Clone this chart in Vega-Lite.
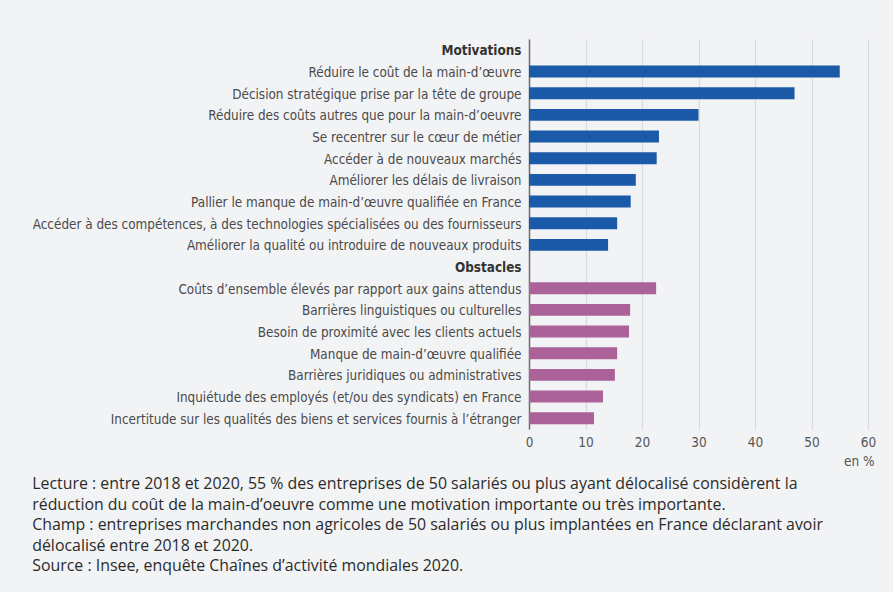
{
  "$schema": "https://vega.github.io/schema/vega-lite/v6.json",
  "autosize": {"type": "none"},
  "padding": {"left": 529, "top": 39, "right": 25, "bottom": 163},
  "width": 339,
  "height": 390,
  "background": "#f2f3f5",
  "title": {
    "text": [
      "Lecture : entre 2018 et 2020, 55 % des entreprises de 50 salariés ou plus ayant délocalisé considèrent la",
      "réduction du coût de la main-d’oeuvre comme une motivation importante ou très importante.",
      "Champ : entreprises marchandes non agricoles de 50 salariés ou plus implantées en France déclarant avoir",
      "délocalisé entre 2018 et 2020.",
      "Source : Insee, enquête Chaînes d’activité mondiales 2020."
    ],
    "orient": "bottom",
    "anchor": "start",
    "frame": "bounds",
    "font": "Open Sans",
    "fontSize": 15.9,
    "fontWeight": "normal",
    "color": "#2b2b2b",
    "lineHeight": 20.5,
    "offset": 8
  },
  "data": {
    "values": [
      {"label": "Réduire le coût de la main-d’œuvre", "groupe": "Motivations", "valeur": 55},
      {"label": "Décision stratégique prise par la tête de groupe", "groupe": "Motivations", "valeur": 47},
      {"label": "Réduire des coûts autres que pour la main-d’oeuvre", "groupe": "Motivations", "valeur": 30},
      {"label": "Se recentrer sur le cœur de métier", "groupe": "Motivations", "valeur": 23},
      {"label": "Accéder à de nouveaux marchés", "groupe": "Motivations", "valeur": 22.6},
      {"label": "Améliorer les délais de livraison", "groupe": "Motivations", "valeur": 18.9},
      {"label": "Pallier le manque de main-d’œuvre qualifiée en France", "groupe": "Motivations", "valeur": 18},
      {"label": "Accéder à des compétences, à des technologies spécialisées ou des fournisseurs", "groupe": "Motivations", "valeur": 15.6},
      {"label": "Améliorer la qualité ou introduire de nouveaux produits", "groupe": "Motivations", "valeur": 14},
      {"label": "Coûts d’ensemble élevés par rapport aux gains attendus", "groupe": "Obstacles", "valeur": 22.5},
      {"label": "Barrières linguistiques ou culturelles", "groupe": "Obstacles", "valeur": 17.9},
      {"label": "Besoin de proximité avec les clients actuels", "groupe": "Obstacles", "valeur": 17.7},
      {"label": "Manque de main-d’œuvre qualifiée", "groupe": "Obstacles", "valeur": 15.6},
      {"label": "Barrières juridiques ou administratives", "groupe": "Obstacles", "valeur": 15.2},
      {"label": "Inquiétude des employés (et/ou des syndicats) en France", "groupe": "Obstacles", "valeur": 13.1},
      {"label": "Incertitude sur les qualités des biens et services fournis à l’étranger", "groupe": "Obstacles", "valeur": 11.5}
    ]
  },
  "mark": {"type": "bar"},
  "encoding": {
    "y": {
      "field": "label",
      "type": "nominal",
      "scale": {
        "domain": [
          "Motivations",
          "Réduire le coût de la main-d’œuvre",
          "Décision stratégique prise par la tête de groupe",
          "Réduire des coûts autres que pour la main-d’oeuvre",
          "Se recentrer sur le cœur de métier",
          "Accéder à de nouveaux marchés",
          "Améliorer les délais de livraison",
          "Pallier le manque de main-d’œuvre qualifiée en France",
          "Accéder à des compétences, à des technologies spécialisées ou des fournisseurs",
          "Améliorer la qualité ou introduire de nouveaux produits",
          "Obstacles",
          "Coûts d’ensemble élevés par rapport aux gains attendus",
          "Barrières linguistiques ou culturelles",
          "Besoin de proximité avec les clients actuels",
          "Manque de main-d’œuvre qualifiée",
          "Barrières juridiques ou administratives",
          "Inquiétude des employés (et/ou des syndicats) en France",
          "Incertitude sur les qualités des biens et services fournis à l’étranger"
        ],
        "paddingInner": 0.45,
        "paddingOuter": 0.225
      },
      "axis": {
        "title": null,
        "ticks": false,
        "labelPadding": 8,
        "labelOffset": 1.5,
        "labelLimit": 600,
        "labelFont": "DejaVu Sans Condensed",
        "labelFontSize": 13.4,
        "labelColor": {"expr": "datum.value == 'Motivations' || datum.value == 'Obstacles' ? '#333333' : '#4a4a4a'"},
        "labelFontWeight": {"expr": "datum.value == 'Motivations' || datum.value == 'Obstacles' ? 'bold' : 'normal'"},
        "domainColor": "#6e6e6e",
        "domainWidth": 1.5,
        "grid": false
      }
    },
    "x": {
      "field": "valeur",
      "type": "quantitative",
      "scale": {"domain": [0, 60], "nice": false},
      "axis": {
        "values": [0, 10, 20, 30, 40, 50, 60],
        "title": "en %",
        "titleFont": "DejaVu Sans Condensed",
        "titleFontSize": 13.5,
        "titleFontWeight": "normal",
        "titleColor": "#555555",
        "titleAnchor": "end",
        "titleAlign": "right",
        "titleX": 345,
        "titlePadding": 6,
        "domain": false,
        "ticks": false,
        "labelFlush": false,
        "labelPadding": 6,
        "labelFont": "DejaVu Sans Condensed",
        "labelFontSize": 13.5,
        "labelColor": "#555555",
        "grid": true,
        "gridColor": "#d9dadc",
        "gridWidth": 1.2
      }
    },
    "color": {
      "field": "groupe",
      "type": "nominal",
      "scale": {"domain": ["Motivations", "Obstacles"], "range": ["#1b5aa8", "#ab6298"]},
      "legend": null
    }
  },
  "config": {
    "view": {"stroke": null}
  }
}
